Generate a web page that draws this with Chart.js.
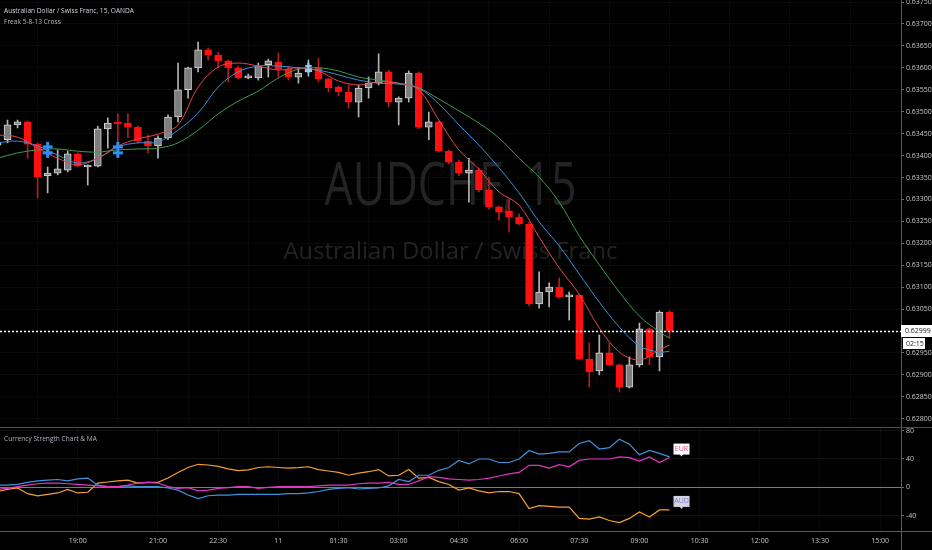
<!DOCTYPE html>
<html>
<head>
<meta charset="utf-8">
<script src="https://cdn.jsdelivr.net/npm/chart.js@4.4.1/dist/chart.umd.min.js"></script>
<style>
  html, body { margin: 0; padding: 0; background: #000; width: 932px; height: 550px; overflow: hidden; }
  body { position: relative; font-family: "Open Sans", sans-serif; }
  canvas { position: absolute; left: 0; }
  #main { top: 0; }
  #ind { top: 428px; }
  .lbl { position: absolute; left: 4px; font-size: 6.6px; line-height: 8px; color: #d1d4dc; white-space: nowrap; }
</style>
</head>
<body>
<canvas id="main" width="932" height="428" style="width:932px;height:428px"></canvas>
<canvas id="ind" width="932" height="122" style="width:932px;height:122px"></canvas>
<div class="lbl" style="top:7px">Australian Dollar / Swiss Franc, 15, OANDA</div>
<div class="lbl" style="top:18px;color:#b2b5be">Freak 5-8-13 Cross</div>
<div class="lbl" style="top:435px;color:#b2b5be">Currency Strength Chart &amp; MA</div>
<script>
// ==================== DATA ====================
// 15 min bars, bar 0 = 17:00 (day 10) ... bar 67 = 09:45 (day 11)
const opens = [0.63424,0.63436,0.63470,0.63477,0.63426,0.63354,0.63360,0.63367,0.63404,0.63374,
  0.63376,0.63461,0.63474,0.63474,0.63465,0.63433,0.63422,0.63440,0.63488,0.63550,
  0.63600,0.63641,0.63629,0.63616,0.63600,0.63577,0.63577,0.63607,0.63613,0.63597,
  0.63579,0.63591,0.63600,0.63575,0.63556,0.63545,0.63522,0.63554,0.63565,0.63591,
  0.63522,0.63531,0.63588,0.63465,0.63477,0.63410,0.63385,0.63360,0.63367,0.63322,
  0.63283,0.63274,0.63260,0.63244,0.63062,0.63089,0.63100,0.63078,0.63082,0.62936,
  0.62909,0.62950,0.62923,0.62872,0.62923,0.63005,0.62941,0.63043];
const highs = [0.63436,0.63481,0.63481,0.63479,0.63429,0.63374,0.63413,0.63410,0.63406,0.63379,
  0.63467,0.63486,0.63495,0.63495,0.63467,0.63447,0.63445,0.63493,0.63611,0.63602,
  0.63659,0.63645,0.63636,0.63618,0.63604,0.63586,0.63611,0.63620,0.63634,0.63604,
  0.63600,0.63618,0.63622,0.63577,0.63559,0.63561,0.63561,0.63579,0.63632,0.63595,
  0.63534,0.63593,0.63591,0.63499,0.63479,0.63413,0.63390,0.63394,0.63372,0.63351,
  0.63285,0.63299,0.63267,0.63249,0.63135,0.63110,0.63121,0.63089,0.63084,0.62973,
  0.62991,0.62973,0.62925,0.62941,0.63018,0.63007,0.63046,0.63046];
const lows = [0.63420,0.63429,0.63463,0.63394,0.63303,0.63315,0.63356,0.63363,0.63374,0.63333,
  0.63374,0.63417,0.63429,0.63440,0.63429,0.63406,0.63394,0.63436,0.63477,0.63531,
  0.63591,0.63618,0.63600,0.63568,0.63575,0.63575,0.63572,0.63579,0.63579,0.63572,
  0.63565,0.63581,0.63568,0.63545,0.63536,0.63508,0.63488,0.63531,0.63561,0.63511,
  0.63470,0.63522,0.63461,0.63436,0.63408,0.63381,0.63354,0.63294,0.63317,0.63278,
  0.63253,0.63226,0.63242,0.63057,0.63052,0.63055,0.63075,0.63025,0.62934,0.62872,
  0.62900,0.62921,0.62861,0.62870,0.62918,0.62923,0.62909,0.62984];
const closes = [0.63431,0.63470,0.63477,0.63426,0.63351,0.63360,0.63370,0.63404,0.63376,0.63376,
  0.63461,0.63474,0.63472,0.63465,0.63433,0.63422,0.63440,0.63488,0.63550,0.63600,
  0.63641,0.63629,0.63616,0.63600,0.63577,0.63578,0.63604,0.63616,0.63597,0.63579,
  0.63588,0.63600,0.63575,0.63554,0.63545,0.63522,0.63554,0.63565,0.63591,0.63522,
  0.63531,0.63588,0.63465,0.63477,0.63410,0.63385,0.63360,0.63367,0.63322,0.63283,
  0.63271,0.63260,0.63244,0.63062,0.63089,0.63100,0.63078,0.63082,0.62936,0.62907,
  0.62950,0.62923,0.62872,0.62923,0.63005,0.62941,0.63043,0.62999];

// moving averages (read at these bars)
const maIdx = [0,2,4,6,8,10,12,14,16,18,20,22,24,26,28,30,32,34,36,38,40,42,44,46,48,50,52,54,56,58,60,62,64,66,67];
const ma5 = [0.63447,0.63442,0.63417,0.63394,0.63379,0.63394,0.63422,0.63438,0.63449,0.63470,
  0.63556,0.63602,0.63611,0.63604,0.63595,0.63600,0.63593,0.63570,0.63561,0.63568,
  0.63565,0.63550,0.63481,0.63413,0.63369,0.63317,0.63287,0.63214,0.63144,0.63084,
  0.63007,0.62952,0.62934,0.62957,0.62968];
const ma8 = [0.63429,0.63433,0.63422,0.63401,0.63383,0.63394,0.63420,0.63429,0.63431,0.63458,
  0.63497,0.63556,0.63591,0.63604,0.63604,0.63600,0.63595,0.63584,0.63572,0.63565,
  0.63563,0.63554,0.63518,0.63470,0.63424,0.63372,0.63315,0.63249,0.63194,0.63130,
  0.63066,0.63009,0.62966,0.62952,0.62954];
const ma13 = [0.63394,0.63406,0.63413,0.63415,0.63410,0.63408,0.63413,0.63415,0.63417,0.63429,
  0.63458,0.63495,0.63524,0.63547,0.63577,0.63597,0.63600,0.63593,0.63579,0.63572,
  0.63565,0.63554,0.63529,0.63502,0.63474,0.63440,0.63394,0.63351,0.63294,0.63217,
  0.63151,0.63089,0.63034,0.62998,0.62984];

// cross signals
const markerIdx = [5, 12, 31];
const markerPrice = [0.63413, 0.63413, 0.63600];

// currency strength panel
const strAUD = [-6,-3,-1,-9,-12,-10,-8,-3,-8,-7, 6,7.5,9,10,6,7,7,13,21,28,
  32.5,31.5,29.5,26,23.5,24.5,28,29,28,27, 27.7,29,25,23,21,17,20,22,25,16,
  17,25,13,14, 8,4,-4,-1,-5,-8,-6,-6,-9,-30,-26,-27,-28,-28,-44,-45,-42,-47,-50,-44,-35,-42,-32,-32];
const strCHF = [3,3,4,7,9,10,11,9,12,13, 3,1,1,2,1,1,1,-1,-4,-11,
  -16,-12,-11,-11,-10,-10,-10,-10,-10,-9, -9,-8,-6,-3,-1.5,-0.5,-2.4,-1.5,-1,2,
  11,8,17,17, 24,28,38,33,40,40,35,35,40,52,47,48,50,50,62,66,54,56,68,61,46,52,48,43];
const strEUR = [-3,-1.5,1,3,5,6,6,5,4,3, 2,1,1,3,6,7,6,1,-1.5,-0.5,
  -5,-4,-1.5,-0.5,1,1,-1.5,0,1,1, 1,1,2,3,3,3,5,6,6,7,
  4,4,9,15, 14,12,11,10,11,13,16,19,21,31,31,27,32,29,38,40,40,40,43,42,37,43,35,42];

// axes
const tickPos = [8,16,22,28,34,40,46,52,58,64,70,76,82,88];
const tickText = ['19:00','21:00','22:30','11','01:30','03:00','04:30','06:00','07:30','09:00','10:30','12:00','13:30','15:00'];
const priceTicks = [0.62800,0.62850,0.62900,0.62950,0.63000,0.63050,0.63100,0.63150,0.63200,0.63250,0.63300,
  0.63350,0.63400,0.63450,0.63500,0.63550,0.63600,0.63650,0.63700,0.63750];
const strTicks = [-40, 0, 40, 80];
const countdown = '02:15';

// ==================== HELPERS ====================
const X_MIN = 0.25, X_MAX = 90.08;
const AXIS_W = 31;
const GRID = 'rgba(255,255,255,0.04)';
const RED = '#ff1010', GREY = '#7e7e7e';
const isUp = i => closes[i] >= opens[i];

Chart.defaults.font.family = '"Open Sans", sans-serif';
Chart.defaults.font.size = 7;
Chart.defaults.color = '#c8c8c8';

function xScale(showTicks) {
  return {
    type: 'linear', min: X_MIN, max: X_MAX, offset: false,
    afterBuildTicks: s => { s.ticks = tickPos.map(v => ({ value: v })); },
    ticks: { display: showTicks, autoSkip: false, maxRotation: 0, padding: 6, color: '#c8c8c8',
      callback: (v, k) => tickText[k] },
    grid: { color: GRID, drawTicks: false },
    border: { display: showTicks, color: '#5a5a5a' },
    afterFit: s => { s.height = showTicks ? 19 : 0; }
  };
}

// ==================== MAIN CHART ====================
const mainOverlay = {
  id: 'mainOverlay',
  beforeDatasetsDraw(chart) {
    const { ctx, chartArea: a } = chart;
    const cx = (a.left + a.right) / 2;
    ctx.save();
    ctx.fillStyle = '#232323';
    ctx.textAlign = 'center';
    ctx.textBaseline = 'alphabetic';
    ctx.font = '60px "Open Sans"';
    ctx.fillText('AUDCHF, 15', cx, 205, 252);
    ctx.font = '24px "Open Sans"';
    ctx.fillText('Australian Dollar / Swiss Franc', cx, 259, 334);
    ctx.restore();
  },
  afterDatasetsDraw(chart) {
    const { ctx, chartArea: a, scales: { x, y } } = chart;
    ctx.save();
    // cross markers
    markerIdx.forEach((m, k) => {
      const px = x.getPixelForValue(m), py = y.getPixelForValue(markerPrice[k]);
      const s = k === 2 ? 0.65 : 1;
      ctx.fillStyle = k === 2 ? '#8ccfff' : '#2f8ef2';
      ctx.fillRect(px - 1.5 * s, py - 8 * s, 3 * s, 16 * s);
      ctx.fillRect(px - 5 * s, py - 4.5 * s, 10 * s, 3 * s);
      ctx.fillRect(px - 5 * s, py + 1.5 * s, 10 * s, 3 * s);
    });
    // last price line
    const last = closes[closes.length - 1];
    const ly = Math.round(y.getPixelForValue(last)) + 0.5;
    ctx.strokeStyle = '#ffffff';
    ctx.lineWidth = 1.5;
    ctx.setLineDash([2, 2]);
    ctx.beginPath();
    ctx.moveTo(a.left, ly);
    ctx.lineTo(a.right, ly);
    ctx.stroke();
    ctx.setLineDash([]);
    ctx.restore();
  },
  afterDraw(chart) {
    const { ctx, chartArea: a, scales: { y }, width, height } = chart;
    const last = closes[closes.length - 1];
    const ly = Math.round(y.getPixelForValue(last));
    ctx.save();
    ctx.fillStyle = '#ffffff';
    ctx.fillRect(a.right, ly - 6, width - a.right, 12);
    ctx.fillRect(a.right + 2, ly + 7, 22, 11);
    ctx.fillStyle = '#131722';
    ctx.font = '7px "Open Sans"';
    ctx.textBaseline = 'middle';
    ctx.fillText(last.toFixed(5), a.right + 4, ly);
    ctx.fillText(countdown, a.right + 5, ly + 12.5);
    // panel separator
    ctx.fillStyle = '#4c4c4c';
    ctx.fillRect(0, height - 1, width, 1);
    ctx.restore();
  }
};

new Chart(document.getElementById('main'), {
  type: 'bar',
  data: {
    datasets: [
      { type: 'line', label: 'MA 5', data: maIdx.map((v, k) => ({ x: v, y: ma5[k] })),
        borderColor: '#e2474f', borderWidth: 1, pointRadius: 0, tension: 0.35, order: 0 },
      { type: 'line', label: 'MA 8', data: maIdx.map((v, k) => ({ x: v, y: ma8[k] })),
        borderColor: '#3d8bd3', borderWidth: 1, pointRadius: 0, tension: 0.35, order: 0 },
      { type: 'line', label: 'MA 13', data: maIdx.map((v, k) => ({ x: v, y: ma13[k] })),
        borderColor: '#3f9a4e', borderWidth: 1, pointRadius: 0, tension: 0.35, order: 0 },
      { label: 'body', data: closes.map((c, i) => ({ x: i, y: [opens[i], c] })),
        backgroundColor: c => isUp(c.dataIndex) ? GREY : RED,
        borderColor: c => isUp(c.dataIndex) ? '#d4d4d4' : RED,
        borderWidth: 1, borderSkipped: false, barThickness: 7, minBarLength: 2, grouped: false, order: 1 },
      { label: 'wick', data: highs.map((h, i) => ({ x: i, y: [lows[i], h] })),
        backgroundColor: c => isUp(c.dataIndex) ? '#b4b4b4' : '#b51c1c',
        barThickness: 1, grouped: false, order: 2 }
    ]
  },
  options: {
    responsive: false, animation: false,
    layout: { padding: 0 },
    plugins: { legend: { display: false }, tooltip: { enabled: false } },
    scales: {
      x: xScale(false),
      y: {
        position: 'right', min: 0.627789, max: 0.637547,
        afterBuildTicks: s => { s.ticks = priceTicks.map(v => ({ value: v })); },
        ticks: { padding: 2, color: '#c8c8c8', callback: v => v.toFixed(5) },
        grid: { color: GRID, tickColor: '#6a6a6a', tickLength: 3 },
        border: { color: '#5a5a5a' },
        afterFit: s => { s.width = AXIS_W; s.paddingTop = 0; s.paddingBottom = 0; }
      }
    }
  },
  plugins: [mainOverlay]
});

// ==================== STRENGTH PANEL ====================
const tags = [
  { data: strEUR, text: 'EUR', fg: '#f04a7a', bg: '#ffffff' },
  { data: strAUD, text: 'AUD', fg: '#7d7fd6', bg: '#d4d4de' }
];

const indOverlay = {
  id: 'indOverlay',
  afterDatasetsDraw(chart) {
    const { ctx, scales: { x, y } } = chart;
    ctx.save();
    ctx.font = '7px "Open Sans"';
    ctx.textAlign = 'center';
    ctx.textBaseline = 'middle';
    tags.forEach(t => {
      const n = t.data.length - 1;
      const px = x.getPixelForValue(n) + 12, py = y.getPixelForValue(t.data[n]);
      ctx.fillStyle = t.bg;
      ctx.fillRect(px - 8, py - 14, 16, 11);
      ctx.beginPath();
      ctx.moveTo(px - 2, py - 3.5);
      ctx.lineTo(px + 2, py - 3.5);
      ctx.lineTo(px, py - 1);
      ctx.fill();
      ctx.fillStyle = t.fg;
      ctx.fillText(t.text, px, py - 8.5);
    });
    ctx.restore();
  },
  afterDraw(chart) {
    const { ctx, chartArea: a, width, height } = chart;
    ctx.save();
    ctx.fillStyle = '#5a5a5a';
    ctx.fillRect(0, a.bottom, width, 1);
    ctx.fillRect(a.right, 0, 1, height);
    ctx.restore();
  }
};

new Chart(document.getElementById('ind'), {
  type: 'line',
  data: {
    datasets: [
      { label: 'EUR', data: strEUR.map((v, i) => ({ x: i, y: v })), borderColor: '#e035c6', borderWidth: 1.2, pointRadius: 0, tension: 0 },
      { label: 'CHF', data: strCHF.map((v, i) => ({ x: i, y: v })), borderColor: '#3f92dc', borderWidth: 1.2, pointRadius: 0, tension: 0 },
      { label: 'AUD', data: strAUD.map((v, i) => ({ x: i, y: v })), borderColor: '#f4a031', borderWidth: 1.2, pointRadius: 0, tension: 0 }
    ]
  },
  options: {
    responsive: false, animation: false,
    layout: { padding: 0 },
    plugins: { legend: { display: false }, tooltip: { enabled: false } },
    scales: {
      x: xScale(true),
      y: {
        position: 'right', min: -61.8, max: 83.8,
        afterBuildTicks: s => { s.ticks = strTicks.map(v => ({ value: v })); },
        ticks: { padding: 2, color: '#c8c8c8' },
        grid: { color: c => c.tick && c.tick.value === 0 ? '#7a7a7a' : 'rgba(255,255,255,0.07)', tickColor: '#6a6a6a', tickLength: 3 },
        border: { color: '#5a5a5a' },
        afterFit: s => { s.width = AXIS_W; s.paddingTop = 0; s.paddingBottom = 0; }
      }
    }
  },
  plugins: [indOverlay]
});
</script>
</body>
</html>
